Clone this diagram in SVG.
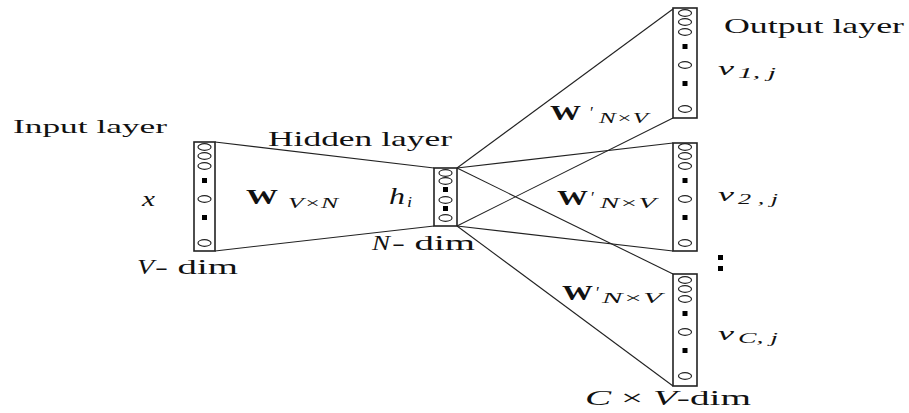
<svg xmlns="http://www.w3.org/2000/svg" width="909" height="413" viewBox="0 0 909 413" font-family="'Liberation Serif', 'DejaVu Serif', serif">
<defs>
<style>
.box{fill:#fff;stroke:#222;stroke-width:1.6}
.el{fill:#fff;stroke:#222;stroke-width:1.2}
.sq{fill:#000}
.ln{stroke:#222;stroke-width:1.1;fill:none}
.t{font-family:'Liberation Serif','DejaVu Serif',serif;fill:#111}
.it{font-style:italic}
.bd{font-weight:bold}
</style>
<g id="col">
<ellipse class="el" cx="0" cy="5" rx="6.5" ry="3.3"/>
<ellipse class="el" cx="0" cy="14" rx="6.5" ry="3.3"/>
<ellipse class="el" cx="0" cy="24" rx="6.5" ry="3.3"/>
<rect class="sq" x="-2.5" y="36" width="5" height="5"/>
<ellipse class="el" cx="0" cy="57" rx="6.5" ry="3.3"/>
<rect class="sq" x="-2.5" y="73" width="5" height="5"/>
<ellipse class="el" cx="0" cy="101" rx="6.5" ry="3.3"/>
</g>
</defs>
<rect width="909" height="413" fill="#fff"/>
<g id="connectors">
<line class="ln" x1="215" y1="142" x2="434" y2="168"/>
<line class="ln" x1="215" y1="251" x2="434" y2="226"/>
<line class="ln" x1="457" y1="168" x2="673" y2="9"/>
<line class="ln" x1="457" y1="226" x2="673" y2="118"/>
<line class="ln" x1="457" y1="168" x2="673" y2="143"/>
<line class="ln" x1="457" y1="226" x2="673" y2="251"/>
<line class="ln" x1="457" y1="168" x2="673" y2="274"/>
<line class="ln" x1="457" y1="226" x2="673" y2="386"/>
</g>
<g id="input">
<rect class="box" x="194" y="142" width="21" height="109"/>
<use href="#col" x="204.5" y="142"/>
<text class="t" x="13" y="133" font-size="19" textLength="154" lengthAdjust="spacingAndGlyphs">Input layer</text>
<text class="t it" x="142" y="206" font-size="21" textLength="13" lengthAdjust="spacingAndGlyphs">x</text>
<text class="t it" x="137" y="274" font-size="21" textLength="17" lengthAdjust="spacingAndGlyphs">V</text>
<text class="t" x="155" y="274" font-size="21" textLength="83" lengthAdjust="spacingAndGlyphs">- dim</text>
</g>
<g id="w-in">
<text class="t bd" x="246" y="204" font-size="22" textLength="32" lengthAdjust="spacingAndGlyphs">W</text>
<text class="t it" x="288" y="208" font-size="14" textLength="50" lengthAdjust="spacingAndGlyphs">V×N</text>
</g>
<g id="hidden">
<rect class="box" x="434" y="168" width="23" height="58"/>
<ellipse class="el" cx="445.5" cy="173" rx="6.5" ry="3.3"/>
<ellipse class="el" cx="445.5" cy="181" rx="6.5" ry="3.3"/>
<rect class="sq" x="443" y="187" width="5" height="5"/>
<ellipse class="el" cx="445.5" cy="200" rx="6.5" ry="3.3"/>
<rect class="sq" x="443" y="206" width="5" height="5"/>
<ellipse class="el" cx="445.5" cy="218" rx="6.5" ry="3.3"/>
<text class="t" x="268" y="146" font-size="21" textLength="184" lengthAdjust="spacingAndGlyphs">Hidden layer</text>
<text class="t it" x="389" y="204" font-size="23" textLength="16" lengthAdjust="spacingAndGlyphs">h</text>
<text class="t it" x="407" y="207" font-size="14" textLength="5" lengthAdjust="spacingAndGlyphs">i</text>
<text class="t it" x="372" y="250" font-size="21" textLength="18" lengthAdjust="spacingAndGlyphs">N</text>
<text class="t" x="392" y="250" font-size="21" textLength="83" lengthAdjust="spacingAndGlyphs">- dim</text>
</g>
<g id="out1">
<rect class="box" x="673" y="8" width="24" height="110"/>
<use href="#col" x="685" y="8"/>
<text class="t it" x="718" y="75" font-size="19" textLength="16" lengthAdjust="spacingAndGlyphs">v</text>
<text class="t it" x="738" y="78" font-size="14" textLength="38" lengthAdjust="spacingAndGlyphs">1, j</text>
</g>
<g id="out2">
<rect class="box" x="673" y="143" width="24" height="108"/>
<use href="#col" x="685" y="142"/>
<text class="t it" x="718" y="201" font-size="19" textLength="16" lengthAdjust="spacingAndGlyphs">v</text>
<text class="t it" x="738" y="204" font-size="14" textLength="40" lengthAdjust="spacingAndGlyphs">2 , j</text>
</g>
<g id="dots">
<rect class="sq" x="718" y="255" width="5" height="5"/>
<rect class="sq" x="718" y="266" width="5" height="5"/>
</g>
<g id="out3">
<rect class="box" x="673" y="274" width="24" height="112"/>
<use href="#col" x="685" y="275"/>
<text class="t it" x="718" y="340" font-size="19" textLength="16" lengthAdjust="spacingAndGlyphs">v</text>
<text class="t it" x="738" y="343" font-size="14" textLength="40" lengthAdjust="spacingAndGlyphs">C, j</text>
</g>
<g id="w-out">
<text class="t bd" x="550" y="120" font-size="22" textLength="31" lengthAdjust="spacingAndGlyphs">W</text>
<text class="t" x="590" y="118" font-size="17">′</text>
<text class="t it" x="599" y="123" font-size="14" textLength="49" lengthAdjust="spacingAndGlyphs">N×V</text>
<text class="t bd" x="557" y="205" font-size="22" textLength="31" lengthAdjust="spacingAndGlyphs">W</text>
<text class="t" x="591" y="203" font-size="17">′</text>
<text class="t it" x="600" y="208" font-size="14" textLength="56" lengthAdjust="spacingAndGlyphs">N×V</text>
<text class="t bd" x="562" y="300" font-size="22" textLength="31" lengthAdjust="spacingAndGlyphs">W</text>
<text class="t" x="596" y="298" font-size="17">′</text>
<text class="t it" x="602" y="303" font-size="14" textLength="60" lengthAdjust="spacingAndGlyphs">N×V</text>
</g>
<g id="labels">
<text class="t" x="724" y="33" font-size="21" textLength="180" lengthAdjust="spacingAndGlyphs">Output layer</text>
<text class="t" x="585" y="405" font-size="21" textLength="166" lengthAdjust="spacingAndGlyphs"><tspan class="it">C</tspan> × <tspan class="it">V</tspan>-dim</text>
</g>
</svg>
